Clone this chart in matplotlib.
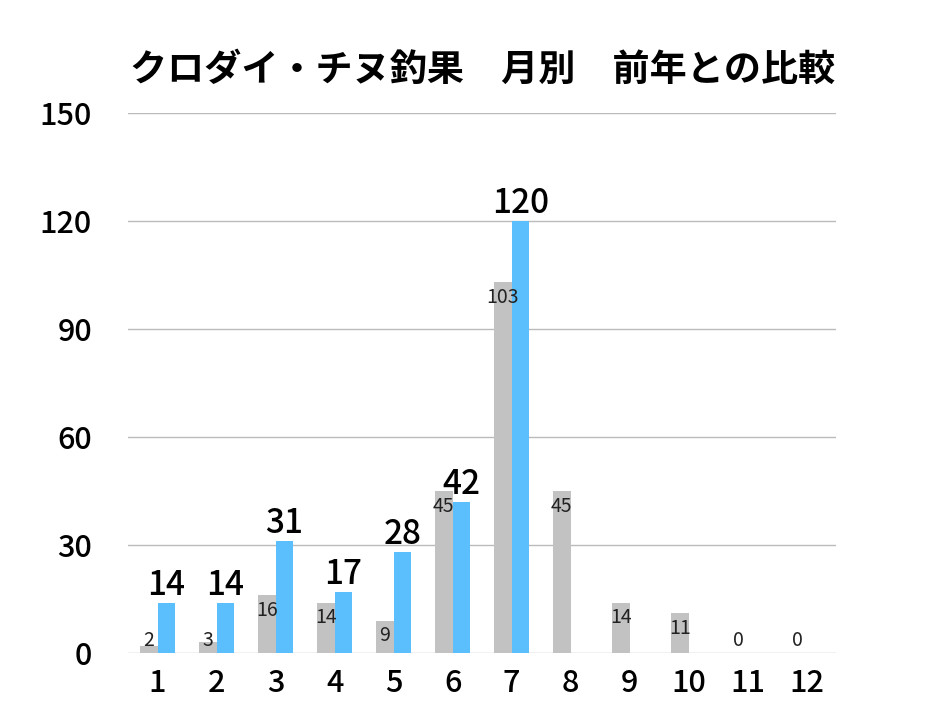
import numpy as np
import matplotlib
matplotlib.use('Agg')
import matplotlib.pyplot as plt

plt.rcParams['font.family'] = ['Noto Sans CJK JP', 'DejaVu Sans']

months = [str(m) for m in range(1, 13)]
prev_year = [2, 3, 16, 14, 9, 45, 103, 45, 14, 11, 0, 0]
this_year = [14, 14, 31, 17, 28, 42, 120]
title = 'クロダイ・チヌ釣果　月別　前年との比較'

gray = '#C2C2C2'
blue = '#5BBEFD'
w = 0.3

fig = plt.figure(figsize=(9.28, 7.23), dpi=100)
ax = fig.add_axes([0.138, 0.0968, 0.763, 0.7469])

x = np.arange(1, 13)
ax.bar(x - w / 2, prev_year, width=w, color=gray, zorder=2)
x2 = np.arange(1, len(this_year) + 1)
ax.bar(x2 + w / 2, this_year, width=w, color=blue, zorder=2)

# labels for last year's bars: just inside the top, but never below the floor
for xi, v in zip(x, prev_year):
    ax.text(xi - w / 2, max(v - 4.2, 3.6), str(v), ha='center', va='center',
            fontsize=14, color='#222222', zorder=3)

for xi, v in zip(x2, this_year):
    ax.annotate(str(v), (xi + w / 2, v), xytext=(0, 0), textcoords='offset points',
                ha='center', va='bottom', fontsize=24, fontweight='medium',
                color='black', zorder=3)

ax.set_xlim(0.5, 12.5)
ax.set_ylim(0, 150)
ax.set_yticks(range(0, 151, 30))
ax.set_xticks(x)
ax.set_xticklabels(months)
ax.yaxis.grid(True, color='#BBBBBB', linewidth=1)
ax.set_axisbelow(True)
for s in ax.spines.values():
    s.set_visible(False)
ax.tick_params(axis='both', length=0, labelsize=22)
for lbl in ax.get_xticklabels() + ax.get_yticklabels():
    lbl.set_fontweight('medium')
ax.tick_params(axis='y', pad=26)
ax.tick_params(axis='x', pad=11)

fig.text(0.52, 0.903, title, ha='center', va='center', fontsize=26.7, fontweight='bold')

fig.savefig('out.png', dpi=100)
